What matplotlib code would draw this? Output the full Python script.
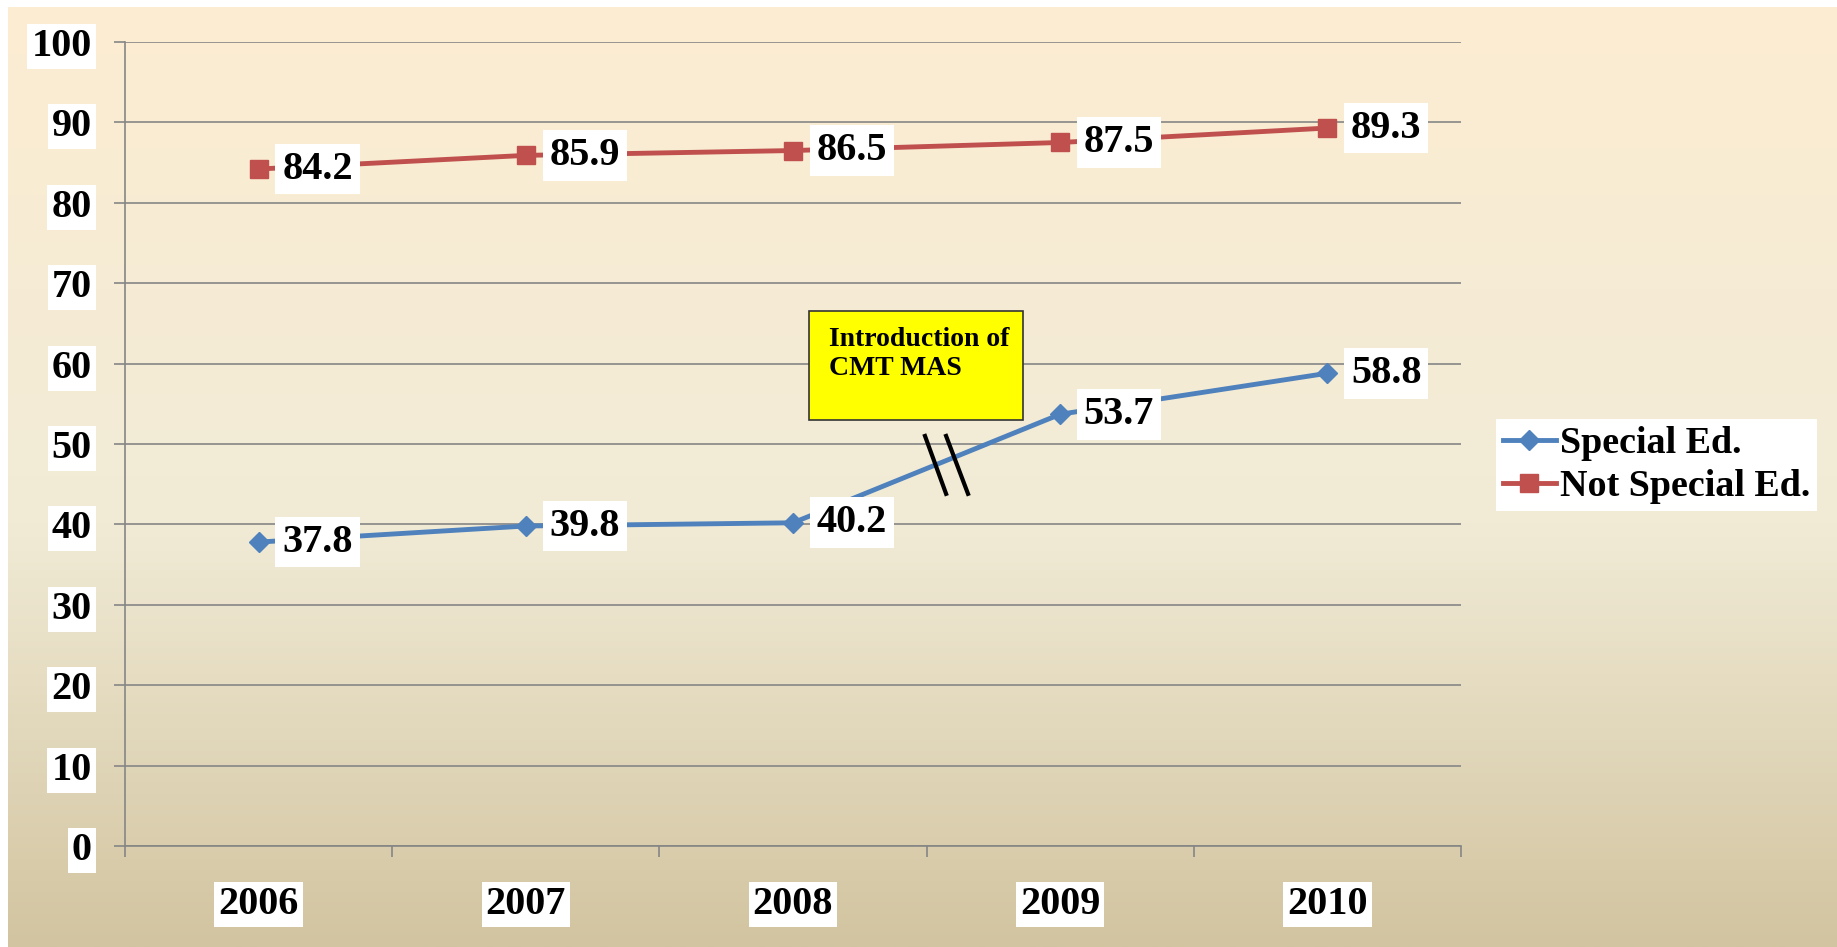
import numpy as np
import matplotlib
matplotlib.use('Agg')
import matplotlib.pyplot as plt
from matplotlib.patches import Rectangle

# data
years = ['2006', '2007', '2008', '2009', '2010']
special = [37.8, 39.8, 40.2, 53.7, 58.8]
not_special = [84.2, 85.9, 86.5, 87.5, 89.3]
note_text = 'Introduction of\nCMT MAS'

plt.rcParams['font.family'] = ['Liberation Serif', 'DejaVu Serif']
plt.rcParams['font.weight'] = 'bold'

W, H = 1837, 947
fig = plt.figure(figsize=(W / 100, H / 100), dpi=100, facecolor='white')

# background gradient (peach -> cream -> tan)
bg = fig.add_axes([8 / W, 0, 1 - 8 / W, 1 - 7 / H])
bg.set_zorder(-5)
stops = np.array([[252, 237, 210], [241, 235, 214], [210, 196, 160]]) / 255.0
t = np.linspace(0, 1, 400)
grad = np.stack([np.interp(t, [0, 0.55, 1], stops[:, c]) for c in range(3)], axis=1)
bg.imshow(grad[:, None, :], aspect='auto', extent=[0, 1, 0, 1], origin='upper')
bg.set_axis_off()

ax = fig.add_axes([125 / W, 1 - 846 / H, (1461 - 125) / W, (846 - 42) / H])
ax.patch.set_alpha(0)

gray = '#868686'
blue = '#4F81BD'
red = '#C0504D'
x = np.arange(len(years))

ax.plot(x, special, color=blue, lw=3.5, marker='D', ms=10, zorder=3,
        label='Special Ed.')
ax.plot(x, not_special, color=red, lw=3.5, marker='s', ms=13, zorder=3,
        label='Not Special Ed.')

# data labels to the right of the points
for series in (special, not_special):
    for xi, v in zip(x, series):
        ax.annotate(f'{v:.1f}', (xi, v), xytext=(17, 0), textcoords='offset points',
                    ha='left', va='center', fontsize=29, fontweight='bold', zorder=5,
                    bbox=dict(boxstyle='square,pad=0.17', fc='white', ec='none'))

ax.set_xlim(-0.5, len(years) - 0.5)
ax.set_ylim(0, 100)
ax.set_yticks(np.arange(0, 101, 10))
ax.set_xticks(x)
ax.set_xticklabels(years)
ax.set_xticks(np.arange(-0.5, len(years), 1), minor=True)
ax.grid(axis='y', color=gray, lw=1.2, zorder=1)
ax.set_axisbelow(True)

for s in ('top', 'right'):
    ax.spines[s].set_visible(False)
for s in ('left', 'bottom'):
    ax.spines[s].set_color(gray)
    ax.spines[s].set_linewidth(1.2)

ax.tick_params(axis='y', length=8, width=1.2, color=gray, pad=16, labelsize=29)
ax.tick_params(axis='x', which='major', length=0, pad=29, labelsize=29)
ax.tick_params(axis='x', which='minor', length=8, width=1.2, color=gray)
for lab in ax.get_xticklabels() + ax.get_yticklabels():
    lab.set_fontweight('bold')
    lab.set_bbox(dict(boxstyle='square,pad=0.1', fc='white', ec='none'))

# annotation box and break marks
ax.add_patch(Rectangle((2.06, 53.0), 0.80, 13.5, fc='#FFFF00', ec='#333333',
                       lw=1.2, zorder=4))
ax.text(2.135, 64.6, note_text, fontsize=20, fontweight='bold', ha='left', va='top',
        linespacing=1.25, zorder=5)
ax.plot([2.494, 2.573], [51.0, 43.8], color='black', lw=3, zorder=4)
ax.plot([2.573, 2.655], [51.0, 43.8], color='black', lw=3, zorder=4)

leg = fig.legend(loc='upper left', bbox_to_anchor=(1496 / W, 1 - 419 / H),
                 frameon=True, fancybox=False, framealpha=1,
                 edgecolor='none', facecolor='white', borderpad=0.18,
                 handlelength=1.4, handletextpad=0.1, labelspacing=0.22,
                 borderaxespad=0, prop={'weight': 'bold', 'size': 27.4})

plt.savefig('out.png', dpi=100, facecolor=fig.get_facecolor())
